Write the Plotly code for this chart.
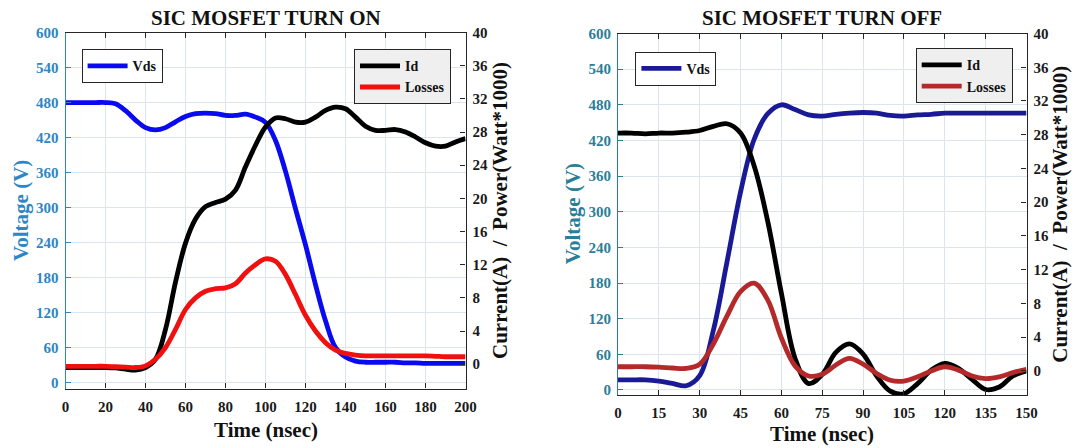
import plotly.graph_objects as go

# ---------------- data ----------------
t_on = list(range(0, 201, 5))
vds_on = [480, 480, 480, 480, 480, 478, 466, 450, 437, 433, 437, 447, 456, 461, 462, 461,
          458, 458, 460, 455, 446, 415, 362, 298, 236, 168, 106, 60, 44, 37, 35, 35,
          35, 35, 34, 34, 33, 33, 33, 33, 33]
id_on = [-0.4, -0.4, -0.4, -0.4, -0.4, -0.45, -0.6, -0.7, -0.4, 0.6, 4.2, 9.9, 14.6, 17.5,
         19.0, 19.5, 19.9, 21.0, 23.8, 26.4, 28.6, 29.7, 29.6, 29.2, 29.2, 29.8, 30.6, 31.0,
         30.8, 29.8, 28.7, 28.2, 28.2, 28.3, 28.0, 27.4, 26.7, 26.3, 26.3, 26.8, 27.2]
loss_on = [-0.25, -0.25, -0.25, -0.25, -0.25, -0.3, -0.35, -0.4, -0.2, 0.6, 2.0, 4.2, 6.6,
           8.0, 8.8, 9.1, 9.2, 9.7, 11.0, 12.0, 12.7, 12.4, 10.8, 8.4, 5.9, 4.0, 2.6, 1.7,
           1.3, 1.1, 1.0, 1.0, 1.0, 1.0, 1.0, 1.0, 1.0, 0.95, 0.9, 0.9, 0.9]

t_off = list(range(0, 151, 5))
vds_off = [17, 17, 17, 15, 11, 7, 24, 100, 215, 333, 422, 465, 480, 472, 463, 461, 464,
           466, 467, 466, 462, 461, 463, 464, 466, 466, 466, 466, 466, 466, 466]
id_off = [28.2, 28.2, 28.1, 28.2, 28.2, 28.3, 28.5, 29.0, 29.3, 28.2, 24.3, 17.7, 9.2, 1.5,
          -1.5, -0.4, 2.2, 3.2, 2.0, -0.6, -2.4, -2.7, -1.5, 0.1, 0.9, 0.3, -1.0, -2.2,
          -1.9, -0.6, 0.0]
loss_off = [0.5, 0.5, 0.5, 0.45, 0.35, 0.3, 0.8, 3.2, 6.5, 9.4, 10.4, 8.4, 3.9, 0.6, -0.6,
            -0.4, 0.7, 1.5, 0.8, -0.3, -1.1, -1.2, -0.7, 0.0, 0.5, 0.1, -0.6, -0.9, -0.7,
            -0.2, 0.2]

x_ticks_on = list(range(0, 201, 20))
x_ticks_off = list(range(0, 151, 15))
v_ticks = list(range(0, 601, 60))
i_ticks = list(range(0, 41, 4))

titles = ["SIC MOSFET TURN ON", "SIC MOSFET TURN OFF"]
x_title = "Time (nsec)"
yl_title = "Voltage (V)"
yr_title = "Current(A)\u00a0 /\u00a0 Power(Watt*1000)"

# ---------------- style ----------------
W, H = 1080, 448
FONT = "Liberation Serif, Times New Roman, serif"
BLUE_AX1 = "#2E86C4"
BLUE_AX2 = "#2B7E98"
GRID = "#DCE5EE"
FRAME = "#262626"

# plot rectangles in pixels (left, right, top, bottom)
L1 = (65.5, 465.5, 32.5, 388.5)
L2 = (618.0, 1026.5, 33.5, 395.0)
XT_OFF = (41, 39)   # distance of x-axis title below each plot


def xd(r):
    return [r[0] / W, r[1] / W]


def yd(r):
    return [1 - r[3] / H, 1 - r[2] / H]


fig = go.Figure()

lw = 4.8
fig.add_trace(go.Scatter(x=t_on, y=vds_on, name="Vds", mode="lines",
                         line=dict(color="#0A0AF0", width=lw, shape="spline", smoothing=1.0),
                         xaxis="x", yaxis="y", legend="legend"))
fig.add_trace(go.Scatter(x=t_on, y=id_on, name="Id", mode="lines",
                         line=dict(color="#000000", width=lw, shape="spline", smoothing=1.0),
                         xaxis="x", yaxis="y2", legend="legend2"))
fig.add_trace(go.Scatter(x=t_on, y=loss_on, name="Losses", mode="lines",
                         line=dict(color="#F01010", width=lw, shape="spline", smoothing=1.0),
                         xaxis="x", yaxis="y2", legend="legend2"))

fig.add_trace(go.Scatter(x=t_off, y=vds_off, name="Vds", mode="lines",
                         line=dict(color="#1A1A96", width=lw, shape="spline", smoothing=1.0),
                         xaxis="x2", yaxis="y3", legend="legend3"))
fig.add_trace(go.Scatter(x=t_off, y=id_off, name="Id", mode="lines",
                         line=dict(color="#000000", width=lw, shape="spline", smoothing=1.0),
                         xaxis="x2", yaxis="y4", legend="legend4"))
fig.add_trace(go.Scatter(x=t_off, y=loss_off, name="Losses", mode="lines",
                         line=dict(color="#B42A2A", width=lw, shape="spline", smoothing=1.0),
                         xaxis="x2", yaxis="y4", legend="legend4"))

tickfont = dict(family=FONT, size=15, color="#1a1a1a", weight="bold")


def xaxis(dom, rng, ticks, anchor):
    return dict(domain=dom, range=rng, tickmode="array", tickvals=ticks,
                showgrid=True, gridcolor=GRID, gridwidth=1, zeroline=False,
                showline=True, linecolor=FRAME, linewidth=1.2, mirror="ticks",
                ticks="inside", ticklen=5, tickcolor=FRAME, automargin=False,
                tickfont=tickfont, ticklabelstandoff=4, anchor=anchor)


def yleft(dom, rng, color, anchor):
    return dict(domain=dom, range=rng, tickmode="array", tickvals=v_ticks,
                showgrid=True, gridcolor=GRID, gridwidth=1, zeroline=False,
                showline=True, linecolor=color, linewidth=1.2, automargin=False,
                ticks="inside", ticklen=5, tickcolor=color,
                tickfont=dict(family=FONT, size=15, color=color, weight="bold"),
                anchor=anchor, side="left", ticklabelstandoff=3)


def yright(over, rng, anchor):
    return dict(overlaying=over, range=rng, tickmode="array", tickvals=i_ticks,
                showgrid=False, zeroline=False, side="right", automargin=False,
                showline=True, linecolor=FRAME, linewidth=1.2,
                ticks="inside", ticklen=5, tickcolor=FRAME,
                tickfont=tickfont, anchor=anchor, ticklabelstandoff=3)


legfont = dict(family=FONT, size=14, color="#111111", weight="bold")

fig.update_layout(
    width=W, height=H,
    margin=dict(l=0, r=0, t=0, b=0, autoexpand=False),
    paper_bgcolor="white", plot_bgcolor="white",
    font=dict(family=FONT),
    xaxis=xaxis(xd(L1), [0, 200], x_ticks_on, "y"),
    yaxis=yleft(yd(L1), [-10, 600], BLUE_AX1, "x"),
    yaxis2=yright("y", [-2.93, 40], "x"),
    xaxis2=xaxis(xd(L2), [0, 150], x_ticks_off, "y3"),
    yaxis3=yleft(yd(L2), [-8.5, 600], BLUE_AX2, "x2"),
    yaxis4=yright("y3", [-2.85, 40], "x2"),
    legend=dict(x=81.6 / W, y=1 - 49.2 / H, xanchor="left", yanchor="top",
                bgcolor="white", bordercolor=FRAME, borderwidth=1, font=legfont,
                itemwidth=40),
    legend2=dict(x=451 / W, y=1 - 49.2 / H, xanchor="right", yanchor="top",
                 bgcolor="#EFEFEF", bordercolor=FRAME, borderwidth=1, font=legfont,
                 itemwidth=40, tracegroupgap=0),
    legend3=dict(x=635.4 / W, y=1 - 51.7 / H, xanchor="left", yanchor="top",
                 bgcolor="white", bordercolor=FRAME, borderwidth=1, font=legfont,
                 itemwidth=40),
    legend4=dict(x=1012.7 / W, y=1 - 48.3 / H, xanchor="right", yanchor="top",
                 bgcolor="#EFEFEF", bordercolor=FRAME, borderwidth=1, font=legfont,
                 itemwidth=40, tracegroupgap=0),
    showlegend=True,
)

ann = []
tfont = dict(family=FONT, size=21, color="#111111", weight="bold")
for r, title, ycol, xoff in ((L1, titles[0], BLUE_AX1, XT_OFF[0]),
                             (L2, titles[1], BLUE_AX2, XT_OFF[1])):
    cx = (r[0] + r[1]) / 2 / W
    cy = 1 - ((r[2] + r[3]) / 2) / H
    ann.append(dict(text=title, x=cx, y=1 - 18 / H, xref="paper", yref="paper",
                    showarrow=False, font=tfont, xanchor="center", yanchor="middle"))
    ann.append(dict(text=x_title, x=cx, y=1 - (r[3] + xoff) / H, xref="paper", yref="paper",
                    showarrow=False, font=tfont, xanchor="center", yanchor="middle"))
    ann.append(dict(text=yl_title, x=(r[0] - 45) / W, y=cy, xref="paper", yref="paper",
                    showarrow=False, textangle=-90,
                    font=dict(family=FONT, size=21, color=ycol, weight="bold"),
                    xanchor="center", yanchor="middle"))
    ann.append(dict(text=yr_title, x=(r[1] + 34) / W, y=cy, xref="paper", yref="paper",
                    showarrow=False, textangle=-90, font=tfont,
                    xanchor="center", yanchor="middle"))
fig.update_layout(annotations=ann)

fig.write_html("out.html")
